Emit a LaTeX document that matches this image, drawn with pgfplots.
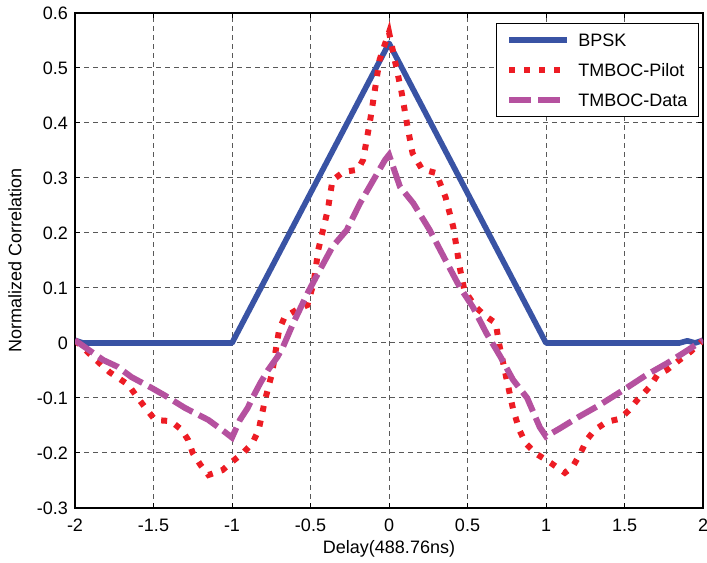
\documentclass[border=0pt]{standalone}
\usepackage{fontspec}
\setmainfont{Liberation Sans}
\usepackage{pgfplots}
\pgfplotsset{compat=1.18}
\usetikzlibrary{calc}
\definecolor{bpskblue}{HTML}{3953A4}
\definecolor{pilotred}{HTML}{ED1C24}
\definecolor{datapurple}{HTML}{B5519F}

\begin{document}
\begin{tikzpicture}
\begin{axis}[
  scale only axis,
  width=314pt, height=247.5pt,
  xmin=-2, xmax=2, ymin=-0.3, ymax=0.6,
  xtick={-2,-1.5,-1,-0.5,0,0.5,1,1.5,2},
  xticklabels={-2,-1.5,-1,-0.5,0,0.5,1,1.5,2},
  ytick={-0.3,-0.2,-0.1,0,0.1,0.2,0.3,0.4,0.5,0.6},
  yticklabels={-0.3,-0.2,-0.1,0,0.1,0.2,0.3,0.4,0.5,0.6},
  tick align=inside,
  major tick length=2.5pt,
  axis line style={line width=0.8pt},
  every tick/.style={black, line width=0.5pt},
  tick label style={font=\fontsize{9}{10.8}\selectfont},
  xticklabel style={yshift=-2pt},
  label style={font=\fontsize{9}{10.8}\selectfont},
  xlabel={Delay(488.76ns)},
  ylabel={Normalized Correlation},
  xlabel style={at={(axis description cs:0.5,-0.0828)}, anchor=center},
  ylabel style={at={(axis description cs:-0.0955,0.5)}, anchor=center},
  grid=major,
  major grid style={dash pattern=on 2.5pt off 2pt, line width=0.5pt, black!65},
  legend style={at={(0.9936,0.98)}, anchor=north east, draw=black,
    line width=0.6pt, fill=white, font=\fontsize{9}{10.8}\selectfont,
    inner xsep=5pt, inner ysep=4.5pt, row sep=7.5pt,
    nodes={inner sep=0.5pt, text height=6.5pt, text depth=0pt},
    /tikz/every odd column/.append style={column sep=3.5pt}},
  legend cell align=left,
  legend image code/.code={\draw[#1] (0pt,0pt) -- (29pt,0pt);},
]
\coordinate (sw) at (rel axis cs:0,0);
\coordinate (ne) at (rel axis cs:1,1);

\addplot[bpskblue, line width=2.8pt, line join=round] coordinates {
  (-2,0.005) (-1.95,0) (-1,0) (0,0.545) (1,0) (1.85,0) (1.9,0.004) (1.95,0) (2,0.005)
};
\addlegendentry{BPSK}

\addplot[pilotred, line width=3pt, dash pattern=on 3pt off 4.5pt] coordinates {
  (-2,0.005) (-1.85,-0.035) (-1.78,-0.053) (-1.66,-0.076) (-1.6,-0.1)
  (-1.54,-0.122) (-1.49,-0.14) (-1.39,-0.142) (-1.32,-0.158) (-1.28,-0.176)
  (-1.25,-0.2) (-1.2,-0.222) (-1.15,-0.24) (-1.06,-0.231) (-1.0,-0.216)
  (-0.93,-0.2) (-0.87,-0.182) (-0.83,-0.158) (-0.79,-0.104) (-0.745,-0.055)
  (-0.70,0.024) (-0.665,0.047) (-0.59,0.06) (-0.52,0.069) (-0.48,0.109)
  (-0.45,0.17) (-0.39,0.242) (-0.36,0.296) (-0.29,0.311) (-0.2,0.315)
  (-0.165,0.333) (-0.12,0.405) (-0.06,0.515) (0,0.565)
  (0.04,0.51) (0.08,0.456) (0.12,0.39) (0.15,0.345) (0.21,0.316) (0.30,0.309)
  (0.36,0.265) (0.41,0.21) (0.45,0.138) (0.48,0.096) (0.55,0.066) (0.61,0.05)
  (0.68,0.036) (0.70,0.0) (0.75,-0.067) (0.79,-0.12) (0.83,-0.158)
  (0.87,-0.182) (0.93,-0.2) (1.03,-0.218) (1.12,-0.236) (1.17,-0.225)
  (1.22,-0.2) (1.26,-0.176) (1.31,-0.158) (1.39,-0.143) (1.47,-0.138)
  (1.53,-0.122) (1.58,-0.104) (1.66,-0.08) (1.71,-0.058) (1.77,-0.049)
  (1.85,-0.031) (1.92,-0.016) (2,0.005)
};
\addlegendentry{TMBOC-Pilot}

\addplot[datapurple, line width=3pt, dash pattern=on 11pt off 3.5pt] coordinates {
  (-2,0.005) (-1.82,-0.031) (-1.73,-0.043) (-1.64,-0.062) (-1.51,-0.082)
  (-1.43,-0.095) (-1.3,-0.118) (-1.15,-0.14) (-1.045,-0.162) (-1.0,-0.172)
  (-0.95,-0.14) (-0.9,-0.118) (-0.87,-0.1) (-0.82,-0.073) (-0.77,-0.049)
  (-0.71,-0.025) (-0.675,-0.007) (-0.61,0.036) (-0.52,0.09) (-0.44,0.133)
  (-0.36,0.175) (-0.27,0.205) (-0.185,0.254) (-0.1,0.296) (-0.025,0.333)
  (0,0.342)
  (0.07,0.284) (0.155,0.254) (0.26,0.205) (0.37,0.145) (0.45,0.102)
  (0.535,0.065) (0.62,0.018) (0.71,-0.025) (0.79,-0.067) (0.88,-0.1)
  (0.96,-0.153) (1.0,-0.17) (1.09,-0.155) (1.21,-0.134) (1.34,-0.113)
  (1.49,-0.086) (1.64,-0.058) (1.77,-0.037) (1.87,-0.019) (2,0.005)
};
\addlegendentry{TMBOC-Data}
\end{axis}
\pgfresetboundingbox
\path[use as bounding box] ($(sw)+(-37.5pt,-27.5pt)$) rectangle ($(ne)+(2pt,6.5pt)$);
\end{tikzpicture}
\end{document}
